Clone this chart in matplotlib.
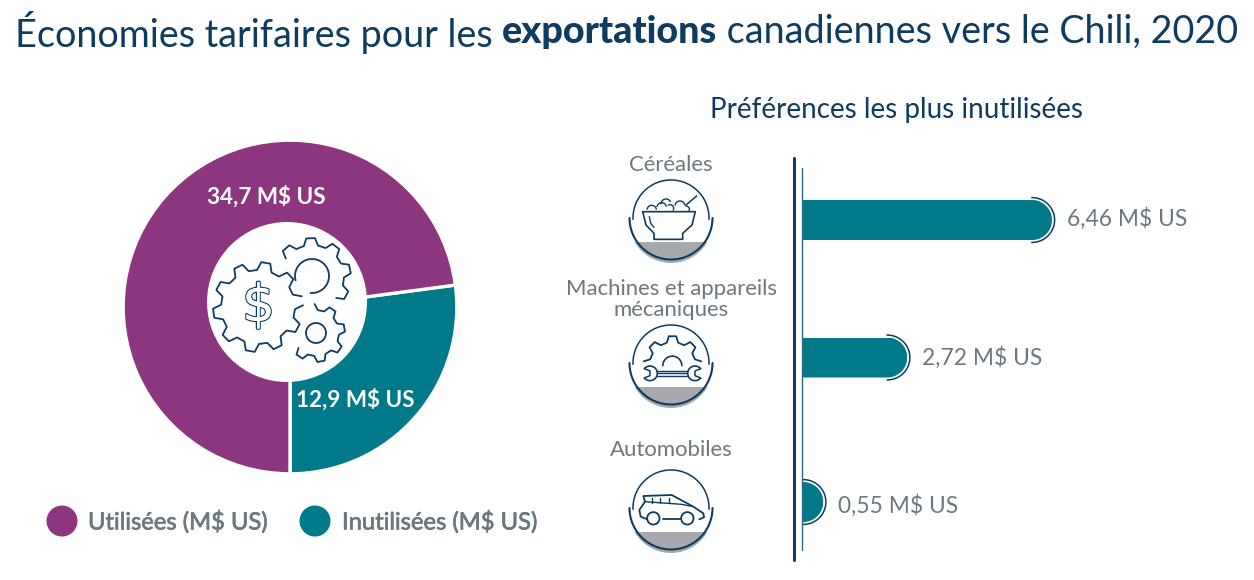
import numpy as np
import matplotlib
matplotlib.use("Agg")
import matplotlib.pyplot as plt
from matplotlib.patches import Circle, Wedge, Rectangle, Polygon
from matplotlib.textpath import TextPath
import matplotlib.patheffects as pe

# ---- data ----
donut_labels = ["Inutilisées (M$ US)", "Utilisées (M$ US)"]
donut_values = [12.9, 34.7]
donut_texts = ["12,9 M$ US", "34,7 M$ US"]
bar_categories = ["Céréales", "Machines et appareils\nmécaniques", "Automobiles"]
bar_values = [6.46, 2.72, 0.55]
bar_texts = ["6,46 M$ US", "2,72 M$ US", "0,55 M$ US"]

# ---- style ----
NAVY = "#0f3b60"; PURPLE = "#8c3680"; TEAL = "#007a8a"; GREY = "#6c7880"; ICON_GREY = "#a7a9ac"
FONT = "Lato"
W, H = 1254, 580
plt.rcParams["font.family"] = FONT
fig = plt.figure(figsize=(W / 100, H / 100), dpi=100, facecolor="white")

def px_axes(l, t, r, b, **kw):
    return fig.add_axes([l / W, 1 - b / H, (r - l) / W, (b - t) / H], **kw)

# ---- donut ----
ax_d = px_axes(124, 141, 456, 473)
ax_d.pie(donut_values, colors=[TEAL, PURPLE], startangle=270, radius=1,
         wedgeprops=dict(width=0.62, edgecolor="white", linewidth=2.4))
ax_d.set_xlim(-0.995, 0.995); ax_d.set_ylim(-0.995, 0.995)

# ---- bars ----
SCALE = 38.7
BAR_Y = [220, 357.5, 502]
BAR_H = [40, 40, 40]
LABEL_DY = [-2, -1, 3]
ax_b = px_axes(802, 0, W, H)
ax_b.set_xlim(0, (W - 802) / SCALE); ax_b.set_ylim(H, 0); ax_b.axis("off")
bars = ax_b.barh(BAR_Y, bar_values, height=BAR_H, color=TEAL, linewidth=0)
for rect, v, y, h, txt, dy in zip(bars, bar_values, BAR_Y, BAR_H, bar_texts, LABEL_DY):
    r = h / 2
    rx = min(r / SCALE, v)
    t = np.linspace(-np.pi / 2, np.pi / 2, 60)
    cx = v - rx
    pts = [(0, y - r)] + [(cx + rx * np.cos(a), y + r * np.sin(a)) for a in t] + [(0, y + r)]
    clip = Polygon(pts, closed=True, transform=ax_b.transData)
    rect.set_clip_path(clip)
    ax_b.plot(cx + (rx + 2.6 / SCALE) * np.cos(t), y + (r + 2.4) * np.sin(t), color=NAVY, lw=1.1, clip_on=False)
    ax_b.annotate(txt, (v, y), xytext=(15 * .72, (-1 - dy) * .72), textcoords="offset points", va="center",
                  ha="left", fontsize=16.4, color=GREY, parse_math=False)

# ---- overlay (text, rules, icons) in pixel coordinates ----
ov = fig.add_axes([0, 0, 1, 1], facecolor="none")
ov.set_xlim(0, W); ov.set_ylim(H, 0); ov.axis("off")

# donut hole
ov.add_patch(Circle((287, 302), 80, fc="white", ec="none"))

def ln(xs, ys, lw=1.3, c=NAVY):
    ov.plot(xs, ys, color=c, lw=lw, solid_capstyle="round", solid_joinstyle="round")

def arc(cx, cy, r, a0, a1, lw=1.3, c=NAVY):
    t = np.radians(np.linspace(a0, a1, 90))
    ln(cx + r * np.cos(t), cy - r * np.sin(t), lw, c)

def gear(cx, cy, ro, ri, n, a0, a1, phase=0.0, lw=1.3):
    """outline from a0 clockwise to a1 (degrees)"""
    step = 360.0 / n
    ang = []
    k = int(np.floor((a1 - phase) / step)) - 1
    while phase + k * step < a0 + step:
        b = phase + k * step
        ang += [(b - .32 * step, ri), (b - .16 * step, ro), (b + .16 * step, ro), (b + .32 * step, ri)]
        k += 1
    ang = [p for p in ang if a1 <= p[0] <= a0][::-1]
    xs = [cx + r * np.cos(np.radians(a)) for a, r in ang]
    ys = [cy - r * np.sin(np.radians(a)) for a, r in ang]
    ln(xs, ys, lw)

# gears in donut hole
gear(258, 307, 45, 37, 10, 370, 10, 8)
ov.text(258.5, 307, "$", fontsize=37, color="white", ha="center", va="center", parse_math=False,
        fontfamily="DejaVu Sans", path_effects=[pe.withStroke(linewidth=1.8, foreground=NAVY), pe.Normal()])
gear(312, 277, 39, 32, 9, 148, -52, 12)
arc(312, 276, 17, 195, -95)
gear(316, 333, 29, 23, 8, 102, -151, 10)
ov.add_patch(Circle((316, 333), 10, fc="none", ec=NAVY, lw=1.3))

# vertical rules
ln([794, 794], [158, 560], 2.2)
ln([802, 802], [168, 550], 1.0, "#2f6485")

# circular icon frames
ICON_X = 671
ICON_Y = [218, 363, 508]
ICON_ZY = [204, 129, 144]   # icon centre in the zoomed crop
for cy in ICON_Y:
    w = Wedge((ICON_X, cy + 3), 42, 0, 360, fc=ICON_GREY, ec="none")
    ov.add_patch(w)
    w.set_clip_path(Rectangle((ICON_X - 50, cy + 24), 100, 30, transform=ov.transData))
    arc(ICON_X, cy, 38, -2, 182, 1.1)
    arc(ICON_X, cy, 41.5, 180, 360, 1.5)

def iz(pts, i):
    return ([ICON_X + (p[0] - 183) / 3 for p in pts],
            [ICON_Y[i] + (p[1] - ICON_ZY[i]) / 3 for p in pts])

def izc(zx, zy, i):
    return ICON_X + (zx - 183) / 3, ICON_Y[i] + (zy - ICON_ZY[i]) / 3

# bowl
ln(*iz([(98, 185), (256, 185), (246, 225), (218, 250), (218, 268), (132, 268), (132, 250), (108, 225), (98, 185)], 0), 1.2)
ln(*iz([(118, 200), (122, 220), (132, 232)], 0), 1.0)
ln(*iz([(228, 165), (260, 138)], 0), 1.1)
for zx, zy, zr, a0, a1 in [(125, 180, 14, 170, 10), (155, 172, 14, 170, 10), (168, 162, 15, 180, 30),
                           (180, 175, 11, 120, -30), (210, 168, 15, 170, 10), (228, 178, 10, 90, -20)]:
    cxx, cyy = izc(zx, zy, 0)
    arc(cxx, cyy, zr / 3, a0, a1, 1.0)

# machine: half gear + wrench
gear(ICON_X + 1.5, ICON_Y[1] + 2, 29, 23, 8, 184, -4, 0)
cxx, cyy = izc(187, 137, 1)
arc(cxx, cyy, 9.5, 180, 0, 1.2)
for zy in (153, 158, 167):
    ln(*iz([(140, zy), (232, zy)], 1), 1.0)
cxx, cyy = izc(120, 160, 1)
arc(cxx, cyy, 7.3, 140, -140, 1.2)
ln(*iz([(103, 146), (120, 153), (120, 167), (103, 174)], 1), 1.1)
cxx, cyy = izc(255, 160, 1)
arc(cxx, cyy, 7.3, 40, 320, 1.2)
ln(*iz([(272, 146), (255, 153), (255, 167), (272, 174)], 1), 1.1)

# car
ln(*iz([(110, 177), (92, 170), (88, 150), (105, 125), (100, 108), (185, 105), (250, 140), (280, 160), (282, 172), (268, 178)], 2), 1.3)
ln(*iz([(105, 125), (215, 133), (250, 140)], 2), 1.0)
for zx in (125, 150, 178):
    ln(*iz([(zx, 113), (zx, 130)], 2), 1.0)
ln(*iz([(160, 177), (212, 177)], 2), 1.3)
for zx in (130, 232):
    ov.add_patch(Circle(izc(zx, 175, 2), 6.2, fc="none", ec=NAVY, lw=1.3))

# title as three runs
runs = [("Économies tarifaires pour les ", "normal"), ("exportations", "black"), (" canadiennes vers le Chili, 2020", "normal")]
TS = 27.15
x = 15.0
for s, wt in runs:
    t = ov.text(x, 32, s, fontsize=TS, color=NAVY, fontweight=wt, ha="left", va="center", parse_math=False)
    p = TextPath((0, 0), s + ".", size=TS, prop=t.get_fontproperties())
    q = TextPath((0, 0), ".", size=TS, prop=t.get_fontproperties())
    x += (p.get_extents().x1 - q.get_extents().x1) * 100 / 72

ov.text(897, 110, "Préférences les plus inutilisées", fontsize=20, color=NAVY, ha="center", va="center")
for s, (lx, ly) in zip(donut_texts, [(355, 400), (266, 197)]):
    ov.text(lx, ly, s, fontsize=16.2, color="white", fontweight="bold", ha="center", va="center", parse_math=False)
LABEL_Y = [165, 299.5, 450]
for s, ly in zip(bar_categories, LABEL_Y):
    ov.text(ICON_X, ly, s, fontsize=15.9, color=GREY, ha="center", va="center", linespacing=1.05, multialignment="center")

# legend
stroke = [pe.withStroke(linewidth=0.5, foreground=GREY)]
for lab, col, cx, tx in zip(donut_labels[::-1], [PURPLE, TEAL], [62, 315], [88, 342]):
    ov.add_patch(Circle((cx, 521), 15.5, fc=col, ec="none"))
    ov.text(tx, 522, lab, fontsize=17.1, color=GREY, ha="left", va="center", parse_math=False, path_effects=stroke)

fig.savefig("out.png", dpi=100, facecolor="white")
